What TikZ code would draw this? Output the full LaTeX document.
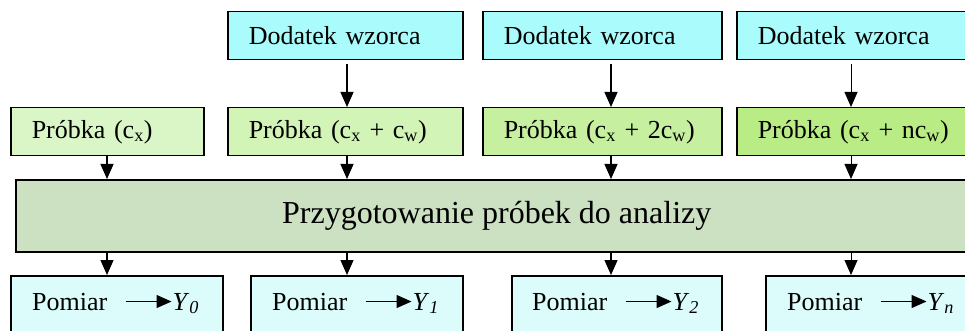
\documentclass[tikz,border=0pt]{standalone}
\usepackage{fontspec}
\setmainfont{Liberation Serif}
\usetikzlibrary{arrows.meta,positioning}
\definecolor{dodatek}{RGB}{170,252,252}
\definecolor{probkaA}{RGB}{218,246,198}
\definecolor{probkaB}{RGB}{210,244,182}
\definecolor{probkaC}{RGB}{198,240,160}
\definecolor{probkaD}{RGB}{186,236,134}
\definecolor{przyg}{RGB}{204,224,194}
\definecolor{pomiar}{RGB}{220,252,252}

\begin{document}
\begin{tikzpicture}[x=1pt,y=-1pt,
    box/.style={draw,line width=1.5pt,anchor=north west,inner xsep=21pt,inner ysep=0pt,
                minimum height=48pt,align=left,font=\fontsize{26}{30}\selectfont},
    mbox/.style={draw,line width=1.5pt,anchor=north west,fill=pomiar,inner sep=0pt,
                 minimum width=212pt,minimum height=58pt},
    lbl/.style={inner sep=0pt,font=\fontsize{26}{30}\selectfont},
    arr/.style={line width=1.2pt,-{Triangle[length=15pt,width=13pt]}},
    arrthin/.style={arr,line width=0.8pt}]
    \useasboundingbox (0,0) rectangle (965,331);
    \clip (0,0) rectangle (965,331);
    % columns of the arrows
    \coordinate (c1) at (107,0);
    \coordinate (c2) at (347,0);
    \coordinate (c3) at (611,0);
    \coordinate (c4) at (851,0);
    % standard additions
    \node[box,fill=dodatek,text width=193pt] (d1) at (227,11) {Dodatek wzorca};
    \node[box,fill=dodatek,text width=197pt] (d2) at (482,11) {Dodatek wzorca};
    \node[box,fill=dodatek,text width=198pt] (d3) at (736,11) {Dodatek wzorca};
    % samples
    \node[box,fill=probkaA,text width=151pt] (p1) at (10,107) {Próbka (c\textsubscript{x})};
    \node[box,fill=probkaB,text width=193pt] (p2) at (227,107) {Próbka (c\textsubscript{x} + c\textsubscript{w})};
    \node[box,fill=probkaC,text width=197pt] (p3) at (482,107) {Próbka (c\textsubscript{x} + 2c\textsubscript{w})};
    \node[box,fill=probkaD,text width=198pt] (p4) at (736,107) {Próbka (c\textsubscript{x} + nc\textsubscript{w})};
    % preparation
    \node[draw,line width=1.5pt,fill=przyg,anchor=north west,minimum width=962pt,minimum height=72pt,
          font=\fontsize{32}{38}\selectfont] (prep) at (15,179) {Przygotowanie próbek do analizy};
    % measurements
    \node[mbox] (m1) at (10,275) {};
    \node[mbox] (m2) at (250,275) {};
    \node[mbox,minimum width=210pt] (m3) at (511,275) {};
    \node[mbox] (m4) at (765,275) {};
    \node[lbl,anchor=base west] (pm1) at ([shift={(22,35)}]m1.north west) {Pomiar};
    \node[lbl,anchor=base west] (pm2) at ([shift={(22,35)}]m2.north west) {Pomiar};
    \node[lbl,anchor=base west] (pm3) at ([shift={(21,35)}]m3.north west) {Pomiar};
    \node[lbl,anchor=base west] (pm4) at ([shift={(22,35)}]m4.north west) {Pomiar};
    \node[lbl,base right=65pt of pm1] (y1) {\textit{Y}\textsubscript{\textit{0}}};
    \node[lbl,base right=65pt of pm2] (y2) {\textit{Y}\textsubscript{\textit{1}}};
    \node[lbl,base right=65pt of pm3] (y3) {\textit{Y}\textsubscript{\textit{2}}};
    \node[lbl,base right=65pt of pm4] (y4) {\textit{Y}\textsubscript{\textit{n}}};
    \foreach \i in {1,...,4}
      \draw[arr,shorten <=18pt,shorten >=1pt] (pm\i.east) -- (pm\i.east -| y\i.west);
    % arrows
    \draw[arr,shorten <=4pt] (d1.south -| c2) -- (p2.north -| c2);
    \draw[arr,shorten <=4pt] (d2.south -| c3) -- (p3.north -| c3);
    \draw[arrthin,shorten <=4pt] (d3.south -| c4) -- (p4.north -| c4);
    \draw[arr] (p1.south -| c1) -- (prep.north -| c1);
    \draw[arr] (p2.south -| c2) -- (prep.north -| c2);
    \draw[arr] (p3.south -| c3) -- (prep.north -| c3);
    \draw[arrthin] (p4.south -| c4) -- (prep.north -| c4);
    \draw[arr] (prep.south -| c1) -- (m1.north -| c1);
    \draw[arr] (prep.south -| c2) -- (m2.north -| c2);
    \draw[arr] (prep.south -| c3) -- (m3.north -| c3);
    \draw[arrthin] (prep.south -| c4) -- (m4.north -| c4);
\end{tikzpicture}
\end{document}
